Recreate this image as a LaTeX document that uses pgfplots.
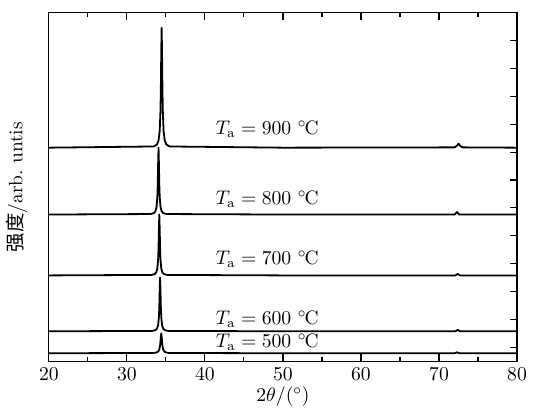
\documentclass[border=0pt]{standalone}
\usepackage{fontspec}
\newfontfamily\cjk{Noto Sans CJK SC}
\usepackage{pgfplots}
\pgfplotsset{compat=1.18}
\newcommand{\degC}{${}^{\circ}$\kern-0.08em C}

\begin{document}
\begin{tikzpicture}[font=\fontsize{10.8}{13}\selectfont]
\begin{axis}[
  scale only axis,
  width=260.6pt, height=193.9pt,
  xmin=20, xmax=80, ymin=0, ymax=349,
  axis line style={line width=0.6pt},
  xtick={20,30,...,80},
  minor x tick num=1,
  xtick pos=both,
  ytick={14.2,42.1,70,97.9,125.8,153.7,181.6,209.5,237.4,265.3,293.2,321.1,349},
  yticklabels={},
  ytick pos=right,
  tick align=inside,
  major tick length=3.9pt, minor tick length=2.2pt,
  every tick/.style={black, line width=0.6pt},
  xlabel={$2\theta/(^\circ)$},
  ylabel={{\cjk 强度}/arb.\ untis},
  xlabel style={yshift=3pt},
  ylabel style={at={(axis description cs:-0.069,0.5)}, anchor=center},
]
% 500
\addplot[black, line width=1pt, line join=round] coordinates {
  (20,8)(33.4,8.3)(33.8,8.8)(34.0,9.7)(34.15,11.7)(34.25,15.8)(34.3,19.8)(34.35,25)
  (34.4,28)(34.45,25)(34.5,19.8)(34.55,15.8)(34.65,11.7)(34.8,9.7)(35.0,8.8)(35.4,8.3)
  (50,8)(72.0,8)(72.3,9)(72.6,8)(80,8)};
% 600
\addplot[black, line width=1pt, line join=round] coordinates {
  (20,30)(33.25,30.4)(33.65,31.2)(33.85,32.6)(34.0,36.2)(34.1,44.3)(34.15,54.1)(34.2,71.3)
  (34.25,84)(34.3,71.3)(34.35,54.1)(34.4,44.3)(34.5,36.2)(34.65,32.6)(34.85,31.2)(35.25,30.4)
  (50,30)(72.1,30)(72.4,31.5)(72.7,30)(80,30)};
% 700
\addplot[black, line width=1pt, line join=round] coordinates {
  (20,86)(33.15,86.5)(33.55,87.3)(33.75,88.9)(33.9,93)(34.0,102.2)(34.05,113.3)(34.1,132.6)
  (34.15,147)(34.2,132.6)(34.25,113.3)(34.3,102.2)(34.4,93)(34.55,88.9)(34.75,87.3)(35.15,86.5)
  (50,86)(72.1,86)(72.4,87.5)(72.7,86)(80,86)};
% 800
\addplot[black, line width=1pt, line join=round] coordinates {
  (20,147)(33.05,147.5)(33.45,148.5)(33.65,150.2)(33.8,154.7)(33.9,164.7)(33.95,177)(34.0,198.2)
  (34.05,214)(34.1,198.2)(34.15,177)(34.2,164.7)(34.3,154.7)(34.45,150.2)(34.65,148.5)(35.05,147.5)
  (50,147)(72.0,147)(72.3,149.5)(72.6,147)(80,147)};
% 900
\addplot[black, line width=1pt, line join=round] coordinates {
  (20,214)(33.45,215.2)(33.85,217.2)(34.05,221.1)(34.2,230.6)(34.3,250.9)(34.35,274)(34.4,310)
  (34.45,334)(34.5,310)(34.55,274)(34.6,250.9)(34.7,230.6)(34.85,221.1)(35.05,217.2)(35.45,215.2)
  (50,214)(72.0,214.3)(72.3,216)(72.5,218)(72.7,216)(73.0,214.3)(80,214)};

\node[anchor=base west] at (axis cs:40.6,227) {$T_\mathrm{a}=900$ \degC};
\node[anchor=base west] at (axis cs:40.6,157) {$T_\mathrm{a}=800$ \degC};
\node[anchor=base west] at (axis cs:40.6,97) {$T_\mathrm{a}=700$ \degC};
\node[anchor=base west] at (axis cs:40.6,37) {$T_\mathrm{a}=600$ \degC};
\node[anchor=base west] at (axis cs:40.6,14) {$T_\mathrm{a}=500$ \degC};
\end{axis}
\path ([shift={(-26.7pt,-30pt)}]current axis.south west) ([shift={(8.9pt,7.2pt)}]current axis.north east);
\end{tikzpicture}
\end{document}
